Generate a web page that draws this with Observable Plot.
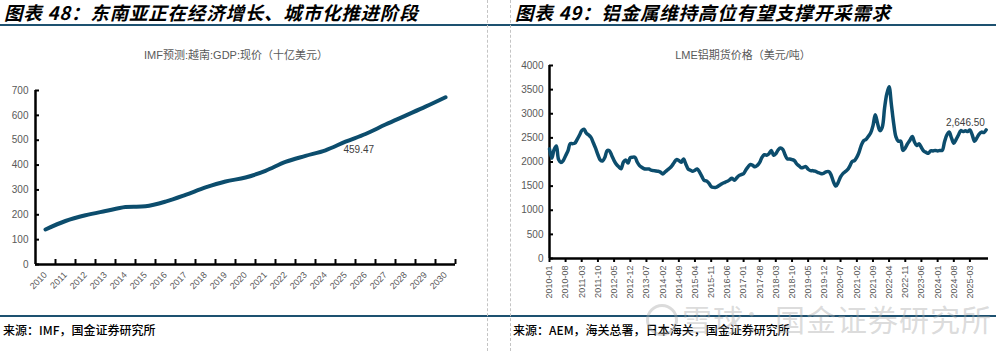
<!DOCTYPE html>
<html>
<head>
<meta charset="utf-8">
<script src="https://cdn.jsdelivr.net/npm/d3@7"></script>
<script src="https://cdn.jsdelivr.net/npm/@observablehq/plot@0.6"></script>
<style>
  html, body { margin: 0; padding: 0; background: #fff; }
  #page { position: relative; width: 996px; height: 351px; overflow: hidden; background: #fff; font-family: "Liberation Sans", "Noto Sans CJK SC", sans-serif; }
  .title { position: absolute; top: -1px; font-family: "Noto Sans CJK SC", sans-serif; font-weight: 700; font-style: italic; font-size: 18.5px; line-height: normal; color: #000; white-space: nowrap; letter-spacing: 0.8px; padding-right: 6px; }
  .sub { position: absolute; top: 48px; font-size: 11px; line-height: 14px; color: #595959; white-space: nowrap; transform: translateX(-50%); font-family: "Liberation Sans", "Noto Sans CJK SC", sans-serif; }
  .src { position: absolute; top: 322px; font-family: "Noto Sans CJK SC", sans-serif; font-size: 12px; line-height: 16px; color: #000; white-space: nowrap; font-weight: 500; }
  .hline { position: absolute; left: 0; width: 996px; height: 2px; background: #1d5170; }
  .vdash { position: absolute; top: 0; height: 351px; width: 0; border-left: 1px dashed #c4c4c4; }
  .chart { position: absolute; top: 60px; }
  .wm { position: absolute; left: 682px; top: 300px; font-family: "Noto Sans CJK SC", sans-serif; font-size: 30px; line-height: 36px; color: rgba(170,170,170,0.42); white-space: nowrap; letter-spacing: 1px; }
  .wmlogo { position: absolute; left: 646px; top: 304px; width: 26px; height: 26px; border: 3px solid rgba(170,170,170,0.42); border-radius: 50%; }
</style>
</head>
<body>
<div id="page">
  <div class="title" style="left:4px;">图表 48：东南亚正在经济增长、城市化推进阶段</div>
  <div class="title" style="left:515px;">图表 49：铝金属维持高位有望支撑开采需求</div>
  <div class="hline" style="top:24px;"></div>
  <div class="hline" style="top:315px;"></div>
  <div class="vdash" style="left:487px;"></div>
  <div class="vdash" style="left:510px;"></div>
  <div class="sub" style="left:236px;">IMF预测:越南:GDP:现价（十亿美元）</div>
  <div class="sub" style="left:743px;">LME铝期货价格（美元/吨）</div>
  <div id="left" class="chart" style="left:0px;"></div>
  <div id="right" class="chart" style="left:500px;"></div>
  <div class="src" style="left:3px;">来源：IMF，国金证券研究所</div>
  <div class="src" style="left:513px;">来源：AEM，海关总署，日本海关，国金证券研究所</div>
  <div class="wmlogo"></div>
  <div class="wm">雪球：国金证券研究所</div>
</div>
<script>
// ---------- Left chart data: IMF Vietnam GDP, current prices (USD bn) ----------
const gdpYears = [2010, 2011, 2012, 2013, 2014, 2015, 2016, 2017, 2018, 2019, 2020,
                  2021, 2022, 2023, 2024, 2025, 2026, 2027, 2028, 2029, 2030];
const gdpValues = [141, 175, 198, 215, 231, 234, 253, 280, 310, 334, 350,
                   377, 413, 437, 459.47, 494, 525, 563, 599, 635, 673];
const gdpYTicks = [0, 100, 200, 300, 400, 500, 600, 700];
const gdpLabelIndex = 14;

// ---------- Right chart data: LME aluminium price (USD/t), monthly from 2010-01 ----------
const alStart = "2010-01";
const alValues = [
  // 2010
  2270, 2080, 2250, 2330, 2050, 1990, 2030, 2130, 2230, 2380, 2380, 2390,
  // 2011
  2470, 2560, 2650, 2680, 2600, 2560, 2510, 2400, 2280, 2150, 2040, 2020,
  // 2012
  2100, 2240, 2230, 2130, 2030, 1950, 1900, 1860, 2000, 2040, 1980, 2090,
  // 2013
  2100, 2097, 2000, 1925, 1890, 1860, 1856, 1856, 1830, 1821, 1815, 1807,
  // 2014
  1790, 1752, 1790, 1830, 1870, 1920, 1990, 2050, 2030, 1993, 2060, 1960,
  // 2015
  1856, 1830, 1807, 1830, 1856, 1790, 1700, 1620, 1605, 1560, 1490, 1474,
  // 2016
  1474, 1500, 1530, 1560, 1580, 1600, 1630, 1665, 1620, 1670, 1717, 1740,
  // 2017
  1760, 1840, 1900, 1950, 1930, 1900, 1930, 1993, 2100, 2150, 2140, 2170,
  // 2018
  2236, 2140, 2170, 2250, 2290, 2260, 2150, 2063, 2063, 2050, 2028, 1960,
  // 2019
  1920, 1880, 1890, 1904, 1850, 1821, 1821, 1810, 1786, 1770, 1755, 1775,
  // 2020
  1800, 1800, 1720, 1580, 1500, 1580, 1690, 1760, 1800, 1840, 1920, 2010,
  // 2021
  2030, 2100, 2200, 2350, 2440, 2470, 2530, 2600, 2750, 2980, 2800, 2650,
  // 2022
  2720, 3120, 3400, 3560, 3200, 2800, 2520, 2430, 2430, 2240, 2290, 2380,
  // 2023
  2450, 2530, 2420, 2340, 2380, 2300, 2230, 2200, 2180, 2230, 2230, 2240,
  // 2024
  2230, 2240, 2240, 2420, 2560, 2620, 2500, 2390, 2470, 2560, 2650, 2630,
  // 2025
  2646.5, 2630, 2665, 2560, 2430, 2500, 2580, 2620, 2610, 2665
];
const alEnd = "2025-11";
const alYTicks = [0, 500, 1000, 1500, 2000, 2500, 3000, 3500, 4000];
const alTickStepMonths = 7;
const alLabelIndex = 180;

const lineColor = "#0c4d6d";
const axisText = "#595959";

// ---------- Left chart ----------
const gdpData = gdpYears.map((y, i) => ({year: y, value: gdpValues[i]}));
const bounds = gdpYears.map(y => y + 0.5);

const left = Plot.plot({
  width: 490, height: 250,
  marginLeft: 35, marginRight: 35, marginTop: 30, marginBottom: 46,
  x: {type: "linear", domain: [gdpYears[0] - 0.5, gdpYears[gdpYears.length - 1] + 0.5]},
  y: {domain: [0, 700]},
  style: {fontFamily: "'Liberation Sans', Arial, sans-serif", fontSize: "10px", background: "transparent", overflow: "visible"},
  marks: [
    Plot.axisY({ticks: gdpYTicks, tickSize: 0, tickPadding: 7, fill: axisText, fontSize: 10, label: null}),
    Plot.axisY({ticks: gdpYTicks, tickSize: -4, tickFormat: () => "", stroke: "#000", strokeWidth: 2, label: null}),
    Plot.axisX({ticks: bounds, tickSize: -5, tickFormat: () => "", stroke: "#000", strokeWidth: 2, label: null}),
    Plot.axisX({ticks: gdpYears, tickSize: 0, tickPadding: 9, tickRotate: -45, tickFormat: d => String(d), fill: axisText, fontSize: 9, label: null}),
    Plot.ruleX([gdpYears[0] - 0.5], {stroke: "#000", strokeWidth: 2.5}),
    Plot.ruleY([0], {stroke: "#000", strokeWidth: 2.5}),
    Plot.line(gdpData, {x: "year", y: "value", curve: "catmull-rom", stroke: lineColor, strokeWidth: 4, strokeLinecap: "round", strokeLinejoin: "round"}),
    Plot.text([gdpData[gdpLabelIndex]], {x: "year", y: "value", text: d => d3.format(".2f")(d.value), dx: 18, dy: 0, textAnchor: "start", fill: "#404040", fontSize: 10})
  ]
});
document.getElementById("left").appendChild(left);

// ---------- Right chart ----------
const parseMonth = d3.utcParse("%Y-%m");
const t0 = parseMonth(alStart);
const alData = alValues.map((v, i) => ({date: d3.utcMonth.offset(t0, i), value: v}));
const tEnd = parseMonth(alEnd);
const alTicks = d3.range(0, 183, alTickStepMonths).map(k => d3.utcMonth.offset(t0, k));

const right = Plot.plot({
  width: 496, height: 250,
  marginLeft: 49, marginRight: 8, marginTop: 5, marginBottom: 52,
  x: {type: "utc", domain: [t0, tEnd]},
  y: {domain: [0, 4000]},
  style: {fontFamily: "'Liberation Sans', Arial, sans-serif", fontSize: "10px", background: "transparent", overflow: "visible"},
  marks: [
    Plot.axisY({ticks: alYTicks, tickSize: 0, tickPadding: 6, fill: axisText, fontSize: 10, tickFormat: d => String(d), label: null}),
    Plot.axisY({ticks: alYTicks, tickSize: -4, tickFormat: () => "", stroke: "#000", strokeWidth: 2, label: null}),
    Plot.axisX({ticks: alTicks, tickSize: 4, tickPadding: 3, tickRotate: -90, tickFormat: d3.utcFormat("%Y-%m"), fill: axisText, fontSize: 9, stroke: "#000", strokeWidth: 2, label: null}),
    Plot.ruleX([t0], {stroke: "#000", strokeWidth: 2.5}),
    Plot.ruleY([0], {stroke: "#000", strokeWidth: 2.5}),
    Plot.line(alData, {x: "date", y: "value", curve: "catmull-rom", stroke: lineColor, strokeWidth: 3.5, strokeLinecap: "round", strokeLinejoin: "round"}),
    Plot.text([alData[alLabelIndex]], {x: "date", y: "value", text: d => d3.format(",.2f")(d.value), dy: -8, textAnchor: "middle", fill: "#404040", fontSize: 10})
  ]
});
document.getElementById("right").appendChild(right);
</script>
</body>
</html>
